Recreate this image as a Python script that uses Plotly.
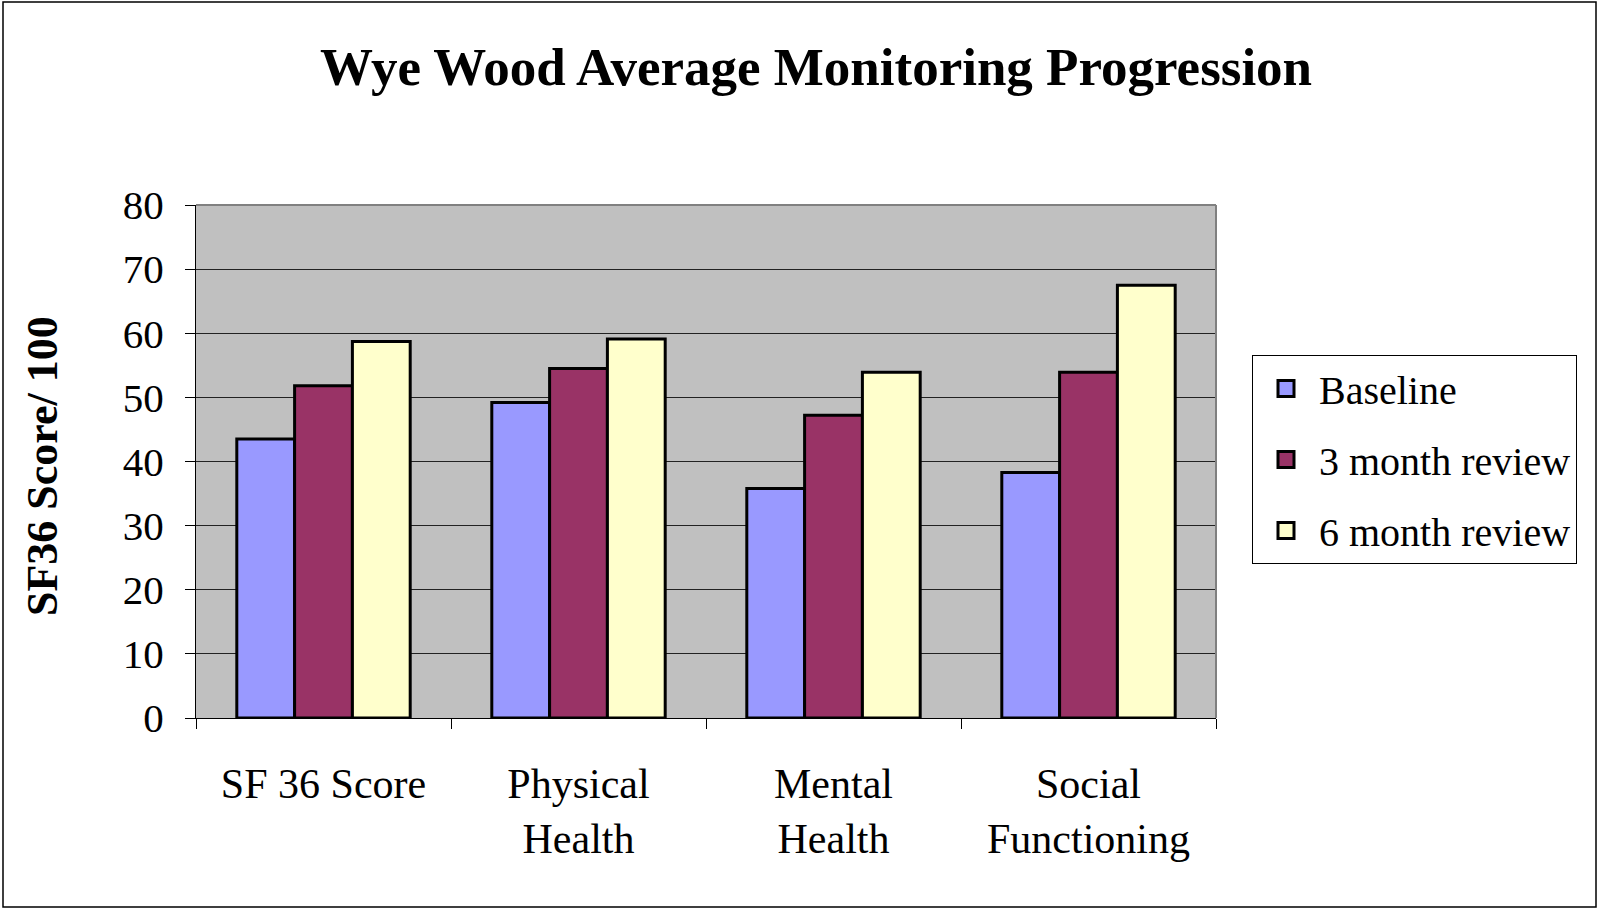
import plotly.graph_objects as go

categories = ["SF 36 Score", "Physical<br>Health", "Mental<br>Health", "Social<br>Functioning"]
baseline = [43.5, 49.2, 35.8, 38.3]
month3 = [51.8, 54.5, 47.2, 53.9]
month6 = [58.7, 59.1, 53.9, 67.5]
series_names = ["Baseline", "3 month review", "6 month review"]
colors = ["#9999FF", "#993366", "#FFFFCC"]
y_ticks = [0, 10, 20, 30, 40, 50, 60, 70, 80]

W, H = 1598, 910
L, R, T, B = 196, 1216, 205, 718

fig = go.Figure()
for name, vals, col in zip(series_names, [baseline, month3, month6], colors):
    fig.add_trace(go.Bar(x=categories, y=vals, name=name, showlegend=False,
                         legendgroup=name,
                         marker=dict(color=col, line=dict(color="black", width=3))))
# legend swatches (larger squares like the original)
for name, col in zip(series_names, colors):
    fig.add_trace(go.Scatter(x=[None], y=[None], mode="markers", name=name,
                             legendgroup=name,
                             marker=dict(symbol="square", size=16, color=col,
                                         line=dict(color="black", width=3))))

FONT = "Liberation Serif, Times New Roman, serif"

def px(x):
    return (x - L) / (R - L)

def py(y):
    return (B - y) / (B - T)

fig.update_layout(
    width=W, height=H,
    margin=dict(l=L, r=W - R, t=T, b=H - B, autoexpand=False),
    paper_bgcolor="white", plot_bgcolor="#C0C0C0",
    barmode="group", bargap=0.32, bargroupgap=0,
    font=dict(family=FONT, color="black", size=40),
    title=dict(text="<b>Wye Wood Average Monitoring Progression</b>",
               x=816 / W, xanchor="center", y=1 - 66 / H, yanchor="middle",
               yref="container", font=dict(size=53, family=FONT, color="black")),
    legend=dict(x=px(1252), xanchor="left", y=py(355), yanchor="top",
                bordercolor="black", borderwidth=1, bgcolor="white",
                font=dict(size=40, family=FONT), itemwidth=56,
                traceorder="grouped", tracegroupgap=16, itemsizing="trace"),
    showlegend=True,
)
fig.update_xaxes(showline=True, linecolor="black", linewidth=1,
                 ticks="outside", tickson="boundaries", ticklen=10, tickcolor="black",
                 tickfont=dict(size=42), showgrid=False, ticklabelstandoff=29)
fig.update_yaxes(range=[0, 80], tickvals=y_ticks, showline=True, linecolor="black",
                 linewidth=1, ticks="outside", ticklen=10, tickcolor="black",
                 showgrid=True, gridcolor="#222222", gridwidth=1,
                 tickfont=dict(size=41), zeroline=False, ticklabelstandoff=13)

fig.add_annotation(text="<b>SF36 Score/ 100</b>", textangle=-90,
                   x=px(42), y=py(466), xref="paper", yref="paper",
                   xanchor="center", yanchor="middle",
                   showarrow=False, font=dict(size=44, family=FONT, color="black"))

# plot area gray top/right border (Excel style)
fig.add_shape(type="line", xref="paper", yref="paper", x0=0, x1=1, y0=1, y1=1,
              line=dict(color="#808080", width=2))
fig.add_shape(type="line", xref="paper", yref="paper", x0=1, x1=1, y0=0, y1=1,
              line=dict(color="#808080", width=2))
# outer chart border
fig.add_shape(type="rect", xref="paper", yref="paper",
              x0=px(3), x1=px(1596), y0=py(907), y1=py(2),
              line=dict(color="black", width=1.5), layer="below")

fig.write_html("out.html", config={"displayModeBar": False},
               post_script="document.body.style.margin='0';document.body.style.overflow='hidden';")
